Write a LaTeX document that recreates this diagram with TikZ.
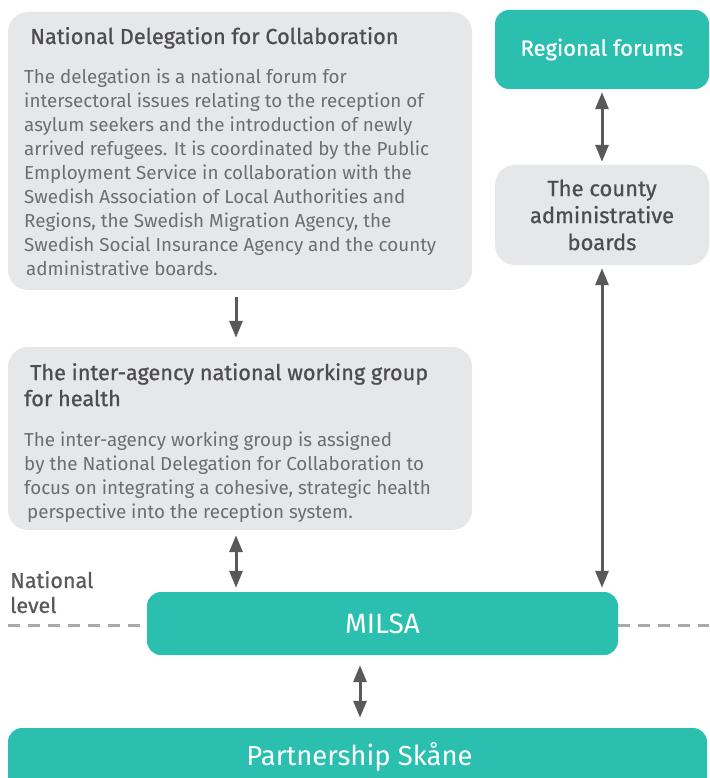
\documentclass[tikz,border=0pt]{standalone}
\usepackage{fontspec}
\setmainfont{Fira Sans}
\usetikzlibrary{arrows.meta}

\definecolor{milsateal}{HTML}{2BBFB0}
\definecolor{boxgray}{HTML}{E6E7E8}
\definecolor{headgray}{HTML}{4D4D4F}
\definecolor{bodygray}{HTML}{6D6E71}
\definecolor{arrowgray}{HTML}{58595B}
\definecolor{dashgray}{HTML}{A7A9AC}

\newcommand{\semibold}{\addfontfeature{FakeBold=0.8}}

\begin{document}
\begin{tikzpicture}[x=1pt, y=-1pt]
        \tikzstyle{graybox}=[rectangle, rounded corners=20pt, fill=boxgray, inner sep=0pt]
        \tikzstyle{tealbox}=[rectangle, rounded corners=14pt, fill=milsateal, inner sep=0pt, text=white]
        \tikzstyle{head}=[inner sep=0pt, text=headgray, font=\fontsize{21.7}{26}\selectfont\semibold, align=left]
        \tikzstyle{body}=[inner sep=0pt, text=bodygray, font=\fontsize{18.8}{24}\selectfont, align=left]
        \tikzstyle{link}=[line width=3pt, draw=arrowgray, {Triangle[width=13pt,length=17pt]}-{Triangle[width=13pt,length=17pt]}]
        \tikzstyle{border}=[line width=3pt, draw=dashgray, dash pattern=on 12pt off 8pt]

        \clip (0,0) rectangle (709,778);

% national delegation and working group on the left
        \node[graybox, minimum width=464pt, minimum height=278pt] (ndc) at (240,151) {};
        \node[head, anchor=base west] (ndchead) at (30,44) {National Delegation for Collaboration};
        \node[body, anchor=north west] (ndcbody) at (24,69) {The delegation is a national forum for\\
            intersectoral issues relating to the reception of\\
            asylum seekers and the introduction of newly\\
            arrived refugees. It is coordinated by the Public\\
            Employment Service in collaboration with the\\
            Swedish Association of Local Authorities and\\
            Regions, the Swedish Migration Agency, the\\
            Swedish Social Insurance Agency and the county\\
            \hspace{2pt}administrative boards.};

        \node[graybox, minimum width=464pt, minimum height=183pt] (group) at (240,438.5) {};
        \node[head, anchor=north west] (grouphead) at (24,363) {\hspace{6pt}The inter-agency national working group\\for health};
        \node[body, anchor=north west] (groupbody) at (24,432) {The inter-agency working group is assigned\\
            by the National Delegation for Collaboration to\\
            focus on integrating a cohesive, strategic health\\
            \hspace{3pt}perspective into the reception system.};

% regional side
        \node[tealbox, minimum width=214pt, minimum height=79pt, font=\fontsize{22}{26}\selectfont\semibold] (regional) at (602,49.5) {Regional forums};
        \node[graybox, minimum width=214pt, minimum height=100pt, text=headgray, align=center,
              font=\fontsize{22}{27}\selectfont\semibold] (county) at (602,215) {The county\\administrative\\boards};

% MILSA and the national level line
        \node[tealbox, minimum width=471pt, minimum height=63pt, font=\fontsize{28}{30}\selectfont] (milsa) at (382.5,623.5) {MILSA};
        \node[head, anchor=north west, text=arrowgray, font=\fontsize{21.5}{25}\selectfont\semibold] (level) at (10,571) {National\\level};
        \coordinate (lineleft) at (8,625);
        \coordinate (lineright) at (712,625);
        \draw[border] (lineleft) -- (lineleft -| milsa.west);
        \draw[border] (lineright -| milsa.east) -- (lineright);

        \node[tealbox, minimum width=699pt, minimum height=82pt] (skane) at (357.5,769) {};
        \node[inner sep=0pt, text=white, font=\fontsize{27.5}{30}\selectfont] (skanetext) at (359.5,757) {Partnership Skåne};

% connections
        \draw[line width=3pt, draw=arrowgray, -{Triangle[width=13pt,length=17pt]}, shorten <=7pt, shorten >=9pt]
            ([xshift=-4pt]ndc.south) -- ([xshift=-4pt]group.north);
        \draw[link, shorten <=5pt, shorten >=4pt] ([xshift=-4pt]group.south) -- ([xshift=-4pt]group.south |- milsa.north);
        \draw[link, shorten <=3pt, shorten >=3pt] (regional.south) -- (county.north);
        \draw[link, shorten <=3pt, shorten >=4pt] (county.south) -- (county.south |- milsa.north);
        \draw[link, shorten <=10pt, shorten >=10pt] ([xshift=-22.5pt]milsa.south) -- ([xshift=-22.5pt]milsa.south |- skane.north);

    \end{tikzpicture}
\end{document}
